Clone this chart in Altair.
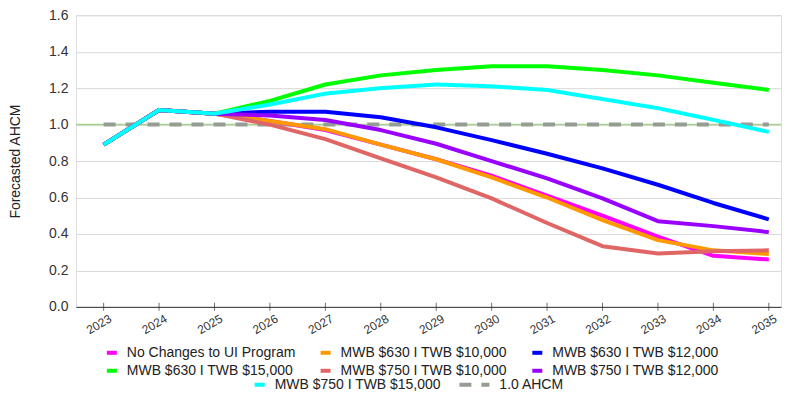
import altair as alt
import pandas as pd

years = [2023, 2024, 2025, 2026, 2027, 2028, 2029, 2030, 2031, 2032, 2033, 2034, 2035]

series_names = [
    "No Changes to UI Program",
    "MWB $630 I TWB $10,000",
    "MWB $630 I TWB $12,000",
    "MWB $630 I TWB $15,000",
    "MWB $750 I TWB $10,000",
    "MWB $750 I TWB $12,000",
    "MWB $750 I TWB $15,000",
    "1.0 AHCM",
]

no_changes = [0.89, 1.08, 1.06, 1.02, 0.97, 0.89, 0.81, 0.72, 0.61, 0.50, 0.385, 0.28, 0.26]
mwb630_10k = [0.89, 1.08, 1.06, 1.02, 0.975, 0.89, 0.81, 0.71, 0.60, 0.476, 0.366, 0.31, 0.29]
mwb630_12k = [0.89, 1.08, 1.06, 1.07, 1.07, 1.04, 0.985, 0.915, 0.84, 0.76, 0.67, 0.57, 0.48]
mwb630_15k = [0.89, 1.08, 1.06, 1.13, 1.22, 1.27, 1.30, 1.32, 1.32, 1.30, 1.27, 1.23, 1.19]
mwb750_10k = [0.89, 1.08, 1.06, 1.00, 0.92, 0.815, 0.71, 0.595, 0.46, 0.333, 0.293, 0.305, 0.31]
mwb750_12k = [0.89, 1.08, 1.06, 1.05, 1.025, 0.97, 0.895, 0.80, 0.705, 0.595, 0.47, 0.443, 0.41]
mwb750_15k = [0.89, 1.08, 1.06, 1.11, 1.17, 1.20, 1.22, 1.21, 1.19, 1.14, 1.09, 1.026, 0.96]
ahcm_line = [1.0, 1.0, 1.0, 1.0, 1.0, 1.0, 1.0, 1.0, 1.0, 1.0, 1.0, 1.0, 1.0]

series_values = [no_changes, mwb630_10k, mwb630_12k, mwb630_15k,
                 mwb750_10k, mwb750_12k, mwb750_15k, ahcm_line]

ahcm_level = [1.0]
y_ticks = [0.0, 0.2, 0.4, 0.6, 0.8, 1.0, 1.2, 1.4, 1.6]

main_colors = ["#ff00ff", "#ff9900", "#0000ff", "#00ff00", "#e06666", "#9900ff"]
second_colors = ["#00ffff", "#959c93"]
second_dashes = [[1, 0], [12, 10]]

rows = []
for name, vals in zip(series_names, series_values):
    for yr, v in zip(years, vals):
        rows.append({"year": yr, "value": v, "series": name})
df = pd.DataFrame(rows)

main_names = series_names[:6]
second_names = series_names[6:]

FONT = "Liberation Sans"

x_scale = alt.Scale(domain=[2022.5, 2035.22], nice=False, zero=False)
x_axis = alt.Axis(values=years, format="d", title=None, grid=False, ticks=False,
                  labelAngle=-30, labelFontSize=12, labelPadding=6, labelOffset=4,
                  domainColor="#333333", labelColor="#333333")
y_scale = alt.Scale(domain=[0, 1.6], nice=False)
y_axis = alt.Axis(values=y_ticks, format=".1f", title="Forecasted AHCM",
                  domain=False, ticks=False, gridColor="#d9d9d9", labelOverlap=False,
                  labelPadding=8, titlePadding=26, labelFontSize=14,
                  titleFontSize=14, titleFontWeight="normal",
                  labelColor="#333333", titleColor="#222222")

x_enc = alt.X("year:Q", scale=x_scale, axis=x_axis)
y_enc = alt.Y("value:Q", scale=y_scale, axis=y_axis)

legend_main = alt.Legend(title=None, orient="none", legendX=29, legendY=331,
                         direction="horizontal",
                         columns=3, columnPadding=17, rowPadding=2,
                         symbolType="stroke", symbolSize=100, symbolStrokeWidth=4,
                         labelFontSize=14, labelOffset=8, labelColor="#222222",
                         labelLimit=300)
legend_second = alt.Legend(title=None, orient="none", legendX=177, legendY=363,
                           direction="horizontal",
                           columns=2, columnPadding=10,
                           symbolType="stroke",
                           symbolSize=alt.ExprRef(expr="datum.value === '1.0 AHCM' ? 900 : 100"),
                           symbolOffset=alt.ExprRef(expr="datum.value === '1.0 AHCM' ? -4 : 0"),
                           labelOffset=alt.ExprRef(expr="datum.value === '1.0 AHCM' ? 18 : 8"),
                           symbolStrokeWidth=4,
                           labelFontSize=14, labelColor="#222222",
                           labelLimit=300)

stroke_enc = alt.Stroke("series:N", scale=alt.Scale(domain=second_names, range=second_colors),
                        legend=legend_second)
dash_enc = alt.StrokeDash("series:N", scale=alt.Scale(domain=second_names, range=second_dashes),
                          legend=legend_second)

base = alt.Chart(df)

rule = alt.Chart(pd.DataFrame({"value": ahcm_level})).mark_rule(
    color="#a9d18e", strokeWidth=1.5).encode(y=y_enc)

dashed = base.transform_filter(alt.datum.series == "1.0 AHCM").mark_line(
    strokeWidth=4).encode(x=x_enc, y=y_enc, stroke=stroke_enc, strokeDash=dash_enc)

main_lines = base.transform_filter(
    alt.FieldOneOfPredicate(field="series", oneOf=main_names)
).mark_line(strokeWidth=4, strokeJoin="round").encode(
    x=x_enc, y=y_enc,
    color=alt.Color("series:N", scale=alt.Scale(domain=main_names, range=main_colors),
                    legend=legend_main),
)

cyan_line = base.transform_filter(alt.datum.series == "MWB $750 I TWB $15,000").mark_line(
    strokeWidth=4, strokeJoin="round").encode(x=x_enc, y=y_enc, stroke=stroke_enc, strokeDash=dash_enc)

ticks = alt.Chart(pd.DataFrame({"year": years})).mark_tick(
    orient="vertical", size=8, thickness=1, color="#333333").encode(
    x=x_enc, y=alt.YDatum(0, scale=y_scale, axis=y_axis))

chart = alt.layer(rule, dashed, main_lines, cyan_line, ticks).properties(
    width=706, height=292,
    padding={"left": 0, "top": 0, "right": 0, "bottom": 0},
).configure_view(stroke=None).configure(font=FONT)

chart.save("out.html", embed_options={"renderer": "svg", "actions": False})
